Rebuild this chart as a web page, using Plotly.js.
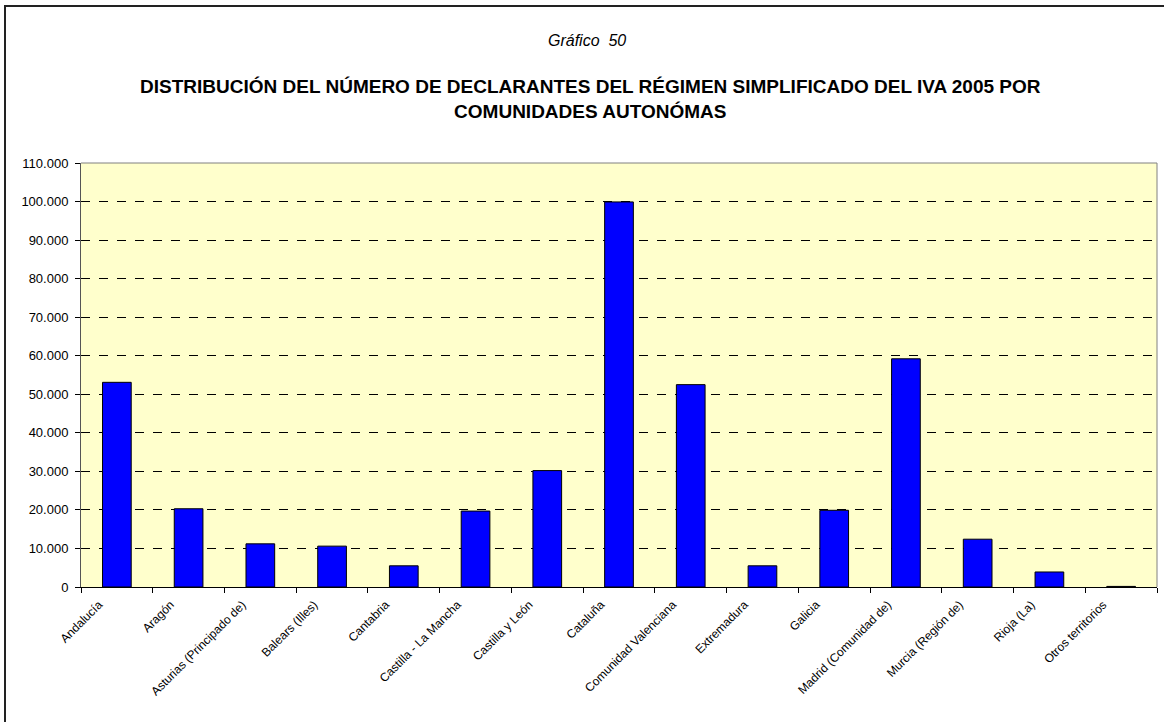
<!DOCTYPE html>
<html>
<head>
<meta charset="utf-8">
<script src="https://cdn.plot.ly/plotly-3.0.1.min.js"></script>
<style>
html,body{margin:0;padding:0;background:#fff;}
#chart{width:1164px;height:722px;}
</style>
</head>
<body>
<div id="chart"></div>
<script>
const categories = [
  "Andalucía", "Aragón", "Asturias (Principado de)", "Balears (Illes)", "Cantabria",
  "Castilla - La Mancha", "Castilla y León", "Cataluña", "Comunidad Valenciana",
  "Extremadura", "Galicia", "Madrid (Comunidad de)", "Murcia (Región de)",
  "Rioja (La)", "Otros territorios"
];
const declarantes = [
  53100, 20300, 11200, 10600, 5500,
  19700, 30200, 99900, 52500,
  5500, 19900, 59200, 12400,
  3900, 150
];
const yTickValues = [0,10000,20000,30000,40000,50000,60000,70000,80000,90000,100000,110000];

const plotL = 81, plotR = 1157, plotT = 163, plotB = 587, W = 1164, H = 722;
const pw = plotR - plotL, ph = plotB - plotT;
function px(x){ return (x - plotL) / pw; }
function py(y){ return (plotB - y) / ph; }

const trace = {
  type: 'bar',
  x: categories,
  y: declarantes,
  marker: {color: '#0000FF', line: {color: '#000000', width: 1}},
  hoverinfo: 'x+y'
};

const layout = {
  width: W, height: H,
  margin: {l: plotL, r: W - plotR, t: plotT, b: H - plotB, pad: 0},
  paper_bgcolor: '#FFFFFF',
  plot_bgcolor: '#FFFFCC',
  separators: ',.',
  bargap: 0.6,
  showlegend: false,
  font: {family: 'Liberation Sans, Arial, sans-serif', size: 12, color: '#000'},
  xaxis: {
    type: 'category',
    tickangle: -45,
    tickfont: {size: 12, color: '#000'},
    ticks: 'outside', tickson: 'boundaries', ticklen: 5, tickcolor: '#000',
    ticklabelshift: -18,
    ticklabelstandoff: 5,
    showline: true, linecolor: '#000', linewidth: 1, mirror: false,
    showgrid: false, zeroline: false,
    automargin: false
  },
  yaxis: {
    range: [0, 110000],
    tickvals: yTickValues,
    tickformat: ',d',
    tickfont: {size: 13, color: '#000'},
    ticks: 'outside', ticklen: 5, tickcolor: '#000',
    ticklabelstandoff: 4,
    showline: true, linecolor: '#555', linewidth: 1,
    showgrid: true, gridcolor: '#000', griddash: 'dash', gridwidth: 1,
    zeroline: false,
    automargin: false
  },
  shapes: [
    {type: 'line', xref: 'paper', yref: 'paper', x0: 0, x1: 1, y0: 1, y1: 1, line: {color: '#808080', width: 1}},
    {type: 'line', xref: 'paper', yref: 'paper', x0: 1, x1: 1, y0: 0, y1: 1, line: {color: '#808080', width: 1}},
    {type: 'rect', xref: 'paper', yref: 'paper', x0: px(5), x1: px(1175), y0: py(6), y1: py(735),
     line: {color: '#222', width: 2}, fillcolor: 'rgba(0,0,0,0)', layer: 'above'}
  ],
  annotations: [
    {xref: 'paper', yref: 'paper', x: px(587), y: py(40), text: '<i>Gráfico&nbsp;&nbsp;50</i>', showarrow: false,
     font: {size: 16, color: '#000'}, xanchor: 'center', yanchor: 'middle'},
    {xref: 'paper', yref: 'paper', x: px(590), y: py(99),
     text: '<b>DISTRIBUCIÓN DEL NÚMERO DE DECLARANTES DEL RÉGIMEN SIMPLIFICADO DEL IVA 2005 POR<br>COMUNIDADES AUTONÓMAS</b>',
     showarrow: false, font: {size: 19, color: '#000'}, xanchor: 'center', yanchor: 'middle', align: 'center'}
  ]
};

Plotly.newPlot('chart', [trace], layout, {displayModeBar: false, staticPlot: true});
</script>
</body>
</html>
